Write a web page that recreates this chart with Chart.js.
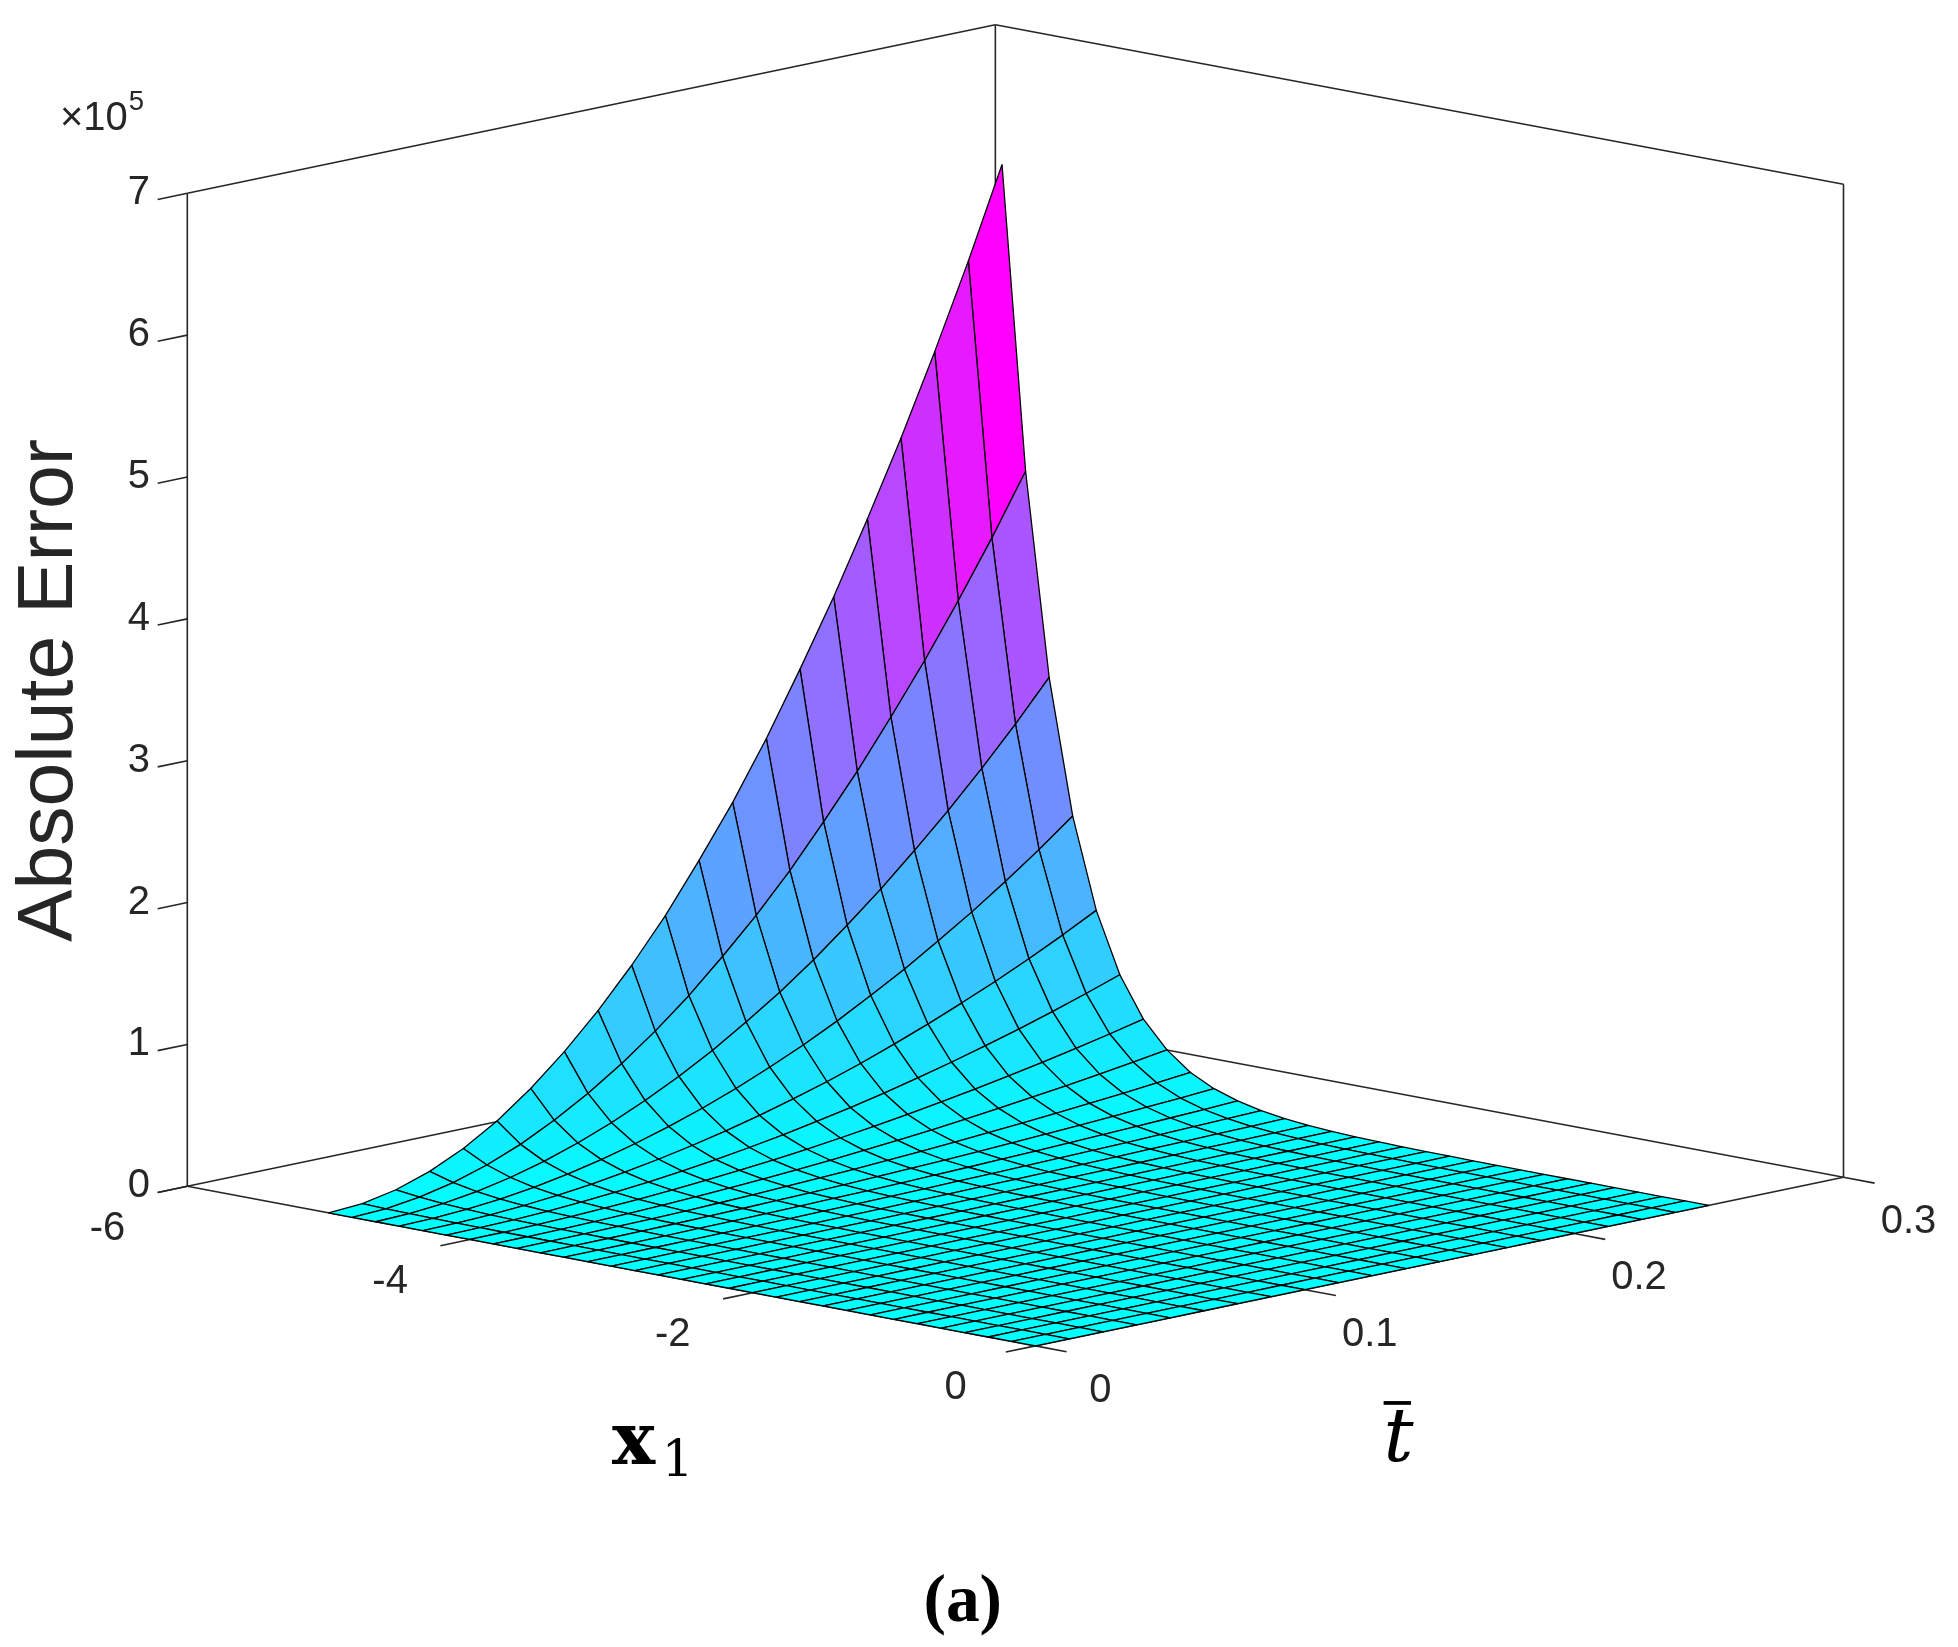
<!DOCTYPE html>
<html><head><meta charset="utf-8">
<script src="https://cdn.jsdelivr.net/npm/chart.js@4"></script>
<style>html,body{margin:0;padding:0;background:#fff}canvas{display:block}</style>
</head><body>
<canvas id="c" width="1958" height="1647"></canvas>
<script>
// grid of the surface
const tGrid = [0,0.0125,0.025,0.0375,0.05,0.0625,0.075,0.0875,0.1,0.1125,0.125,0.1375,0.15,0.1625,0.175,0.1875,0.2,0.2125,0.225,0.2375,0.25];
const x1Grid = [-5,-4.8333,-4.6667,-4.5,-4.3333,-4.1667,-4,-3.8333,-3.6667,-3.5,-3.3333,-3.1667,-3,-2.8333,-2.6667,-2.5,-2.3333,-2.1667,-2,-1.8333,-1.6667,-1.5,-1.3333,-1.1667,-1,-0.8333,-0.6667,-0.5,-0.3333,-0.1667,0];
// error (x1e5) along the x1 = -5 edge, per t
const edgeErrorAtX1min = [0,0.016,0.064,0.144,0.256,0.40,0.58,0.79,1.03,1.30,1.60,1.94,2.30,2.70,3.14,3.60,4.10,4.62,5.18,5.77,6.40];
// relative decay along x1 (read on the t = 0.25 edge)
const decayAlongX1 = [1,0.667,0.445,0.297,0.198,0.132,0.088,0.059,0.039,0.026,0.0174,0.0116,0.0077,0.0052,0.0034,0.0023,0.0015,0.001,0.0007,0.00046,0.0003,0.0002,0.00014,0.00009,0.00006,0.00004,0.00003,0.00002,0.00001,0.00001,0.00001];
const zTicks = [0,1,2,3,4,5,6,7];
const x1Ticks = [-6,-4,-2,0];
const tTicks = [0,0.1,0.2,0.3];

const Z = x1Grid.map((x,i)=>tGrid.map((t,j)=>edgeErrorAtX1min[j]*decayAlongX1[i]));
const zMax = Math.max(...edgeErrorAtX1min);

const S = 1958/1568;
function P(x1,t,z){
  const X = 150 + (x1+6)*113.2 + t*2157;
  const Y = 950 + (x1+6)*21.3 - t*450 - z*113.6;
  return [X*S, Y*S];
}

const surfacePlugin = {
  id:'surface',
  afterDatasetsDraw(chart){
    const ctx = chart.ctx, xs = chart.scales.x, ys = chart.scales.y;
    const px = p => [xs.getPixelForValue(p[0]), ys.getPixelForValue(p[1])];
    const line = (a,b,col,w)=>{ctx.beginPath();ctx.strokeStyle=col;ctx.lineWidth=w;const A=px(a),B=px(b);ctx.moveTo(A[0],A[1]);ctx.lineTo(B[0],B[1]);ctx.stroke();};
    const ax='#262626';
    ctx.save();
    const c000=P(-6,0,0),c030=P(-6,0.3,0),c630=P(0,0.3,0),c600=P(0,0,0);
    const c007=P(-6,0,7),c037=P(-6,0.3,7),c637=P(0,0.3,7);
    [[c000,c030],[c030,c630],[c007,c037],[c037,c637],[c000,c007],[c030,c037],[c630,c637],[c000,c600],[c600,c630]].forEach(s=>line(s[0],s[1],ax,1.6));
    ctx.fillStyle=ax; ctx.font=(32*S)+'px "Liberation Sans", Arial, sans-serif';
    zTicks.forEach(z=>{const a=P(-6,0,z),b=P(-6,-0.011,z);line(a,b,ax,1.6);
      const q=px(P(-6,0,z));ctx.textAlign='right';ctx.textBaseline='middle';ctx.fillText(String(z),q[0]-30*S,q[1]);});
    x1Ticks.forEach(x=>{const a=P(x,0,0),b=P(x,-0.011,0);line(a,b,ax,1.6);
      const q=px(P(x,0,0));ctx.textAlign='center';ctx.textBaseline='middle';ctx.fillText(String(x),q[0]-64*S,q[1]+34*S);});
    tTicks.forEach(t=>{const a=P(0,t,0),b=P(0.22,t,0);line(a,b,ax,1.6);
      const q=px(P(0,t,0));ctx.textAlign='center';ctx.textBaseline='middle';ctx.fillText(String(t),q[0]+52*S,q[1]+36*S);});
    const quads=[];
    for(let i=0;i<x1Grid.length-1;i++)for(let j=0;j<tGrid.length-1;j++){
      const pts=[[i,j],[i+1,j],[i+1,j+1],[i,j+1]];
      const zc=Math.max(Z[i][j],Z[i+1][j],Z[i+1][j+1],Z[i][j+1]);
      const depth=(tGrid[j]+tGrid[j+1])/2/0.3 + (1-((x1Grid[i]+x1Grid[i+1])/2+6)/6);
      quads.push({pts,zc,depth});
    }
    quads.sort((a,b)=>b.depth-a.depth);
    ctx.lineWidth=1.3; ctx.strokeStyle='#000'; ctx.lineJoin='round';
    quads.forEach(q=>{
      const v=Math.min(1,q.zc/zMax);
      ctx.fillStyle=`rgb(${Math.round(255*v)},${Math.round(255*(1-v))},255)`;
      ctx.beginPath();
      q.pts.forEach(([i,j],k)=>{const p=px(P(x1Grid[i],tGrid[j],Z[i][j]));k?ctx.lineTo(p[0],p[1]):ctx.moveTo(p[0],p[1]);});
      ctx.closePath();ctx.fill();ctx.stroke();
    });
    ctx.fillStyle=ax;ctx.textAlign='left';ctx.textBaseline='alphabetic';
    ctx.font=(32*S)+'px "Liberation Sans", Arial, sans-serif';
    const bx=xs.getPixelForValue(48*S), by=ys.getPixelForValue(104*S);
    ctx.fillText('\u00d710',bx,by);
    const w=ctx.measureText('\u00d710').width;
    ctx.font=(22*S)+'px "Liberation Sans", Arial, sans-serif';
    ctx.fillText('5',bx+w+1,by-16*S);
    ctx.save();ctx.translate(xs.getPixelForValue(40*S),ys.getPixelForValue(553*S));ctx.rotate(-Math.PI/2);
    ctx.textAlign='center';ctx.textBaseline='middle';ctx.fillStyle='#262626';
    ctx.font=(63*S)+'px "Liberation Sans", Arial, sans-serif';ctx.fillText('Absolute Error',0,0);ctx.restore();
    ctx.fillStyle='#000';
    ctx.font='bold '+(58*S)+'px "DejaVu Serif", "Liberation Serif", serif';ctx.textAlign='left';
    ctx.fillText('x',xs.getPixelForValue(490*S),ys.getPixelForValue(1172*S));
    ctx.font=(40*S)+'px "DejaVu Serif", "Liberation Serif", serif';
    ctx.fillText('1',xs.getPixelForValue(530*S),ys.getPixelForValue(1182*S));
    ctx.font='italic '+(60*S)+'px "DejaVu Serif", "Liberation Serif", serif';
    ctx.fillText('t',xs.getPixelForValue(1108*S),ys.getPixelForValue(1170*S));
    ctx.fillRect(xs.getPixelForValue(1108*S),ys.getPixelForValue(1122*S),22*S,3*S);
    ctx.font='bold '+(54*S)+'px "Liberation Serif", serif';ctx.textAlign='center';
    ctx.fillText('(a)',xs.getPixelForValue(771*S),ys.getPixelForValue(1298*S));
    ctx.restore();
  }
};

new Chart(document.getElementById('c'),{
  type:'scatter',
  data:{datasets:[{data:[],pointRadius:0}]},
  options:{responsive:false,animation:false,
    layout:{padding:0},
    plugins:{legend:{display:false},tooltip:{enabled:false}},
    scales:{x:{type:'linear',min:0,max:1958,display:false},
            y:{type:'linear',min:0,max:1647,reverse:true,display:false}}},
  plugins:[surfacePlugin]
});
</script>
</body></html>
